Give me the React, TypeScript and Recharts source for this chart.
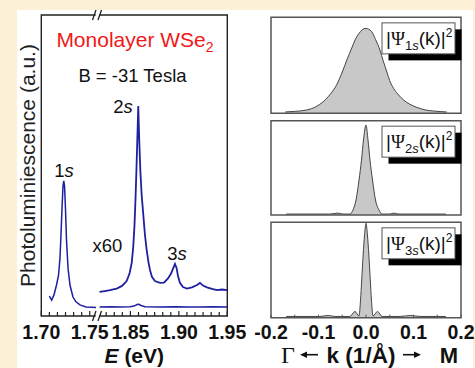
import React from 'react';
import { LineChart, Line, AreaChart, Area, XAxis, YAxis, ReferenceArea, ReferenceDot } from 'recharts';

const FONT = '"Liberation Sans", Arial, Helvetica, sans-serif';
const SERIF = '"Liberation Serif", "Times New Roman", serif';
const BLUE = '#1f1fa0';
const CREAM = '#fcf1d6';

// ---------- Left panel: PL spectrum (energy in eV, intensity in a.u.) ----------
const mainLowE = [1.7083, 1.7107, 1.7131, 1.7157, 1.7178, 1.7193, 1.7203, 1.7214, 1.7224, 1.7232, 1.724, 1.725, 1.726, 1.7276, 1.7296, 1.7327, 1.7358, 1.7399, 1.7461, 1.752, 1.7565];
const mainLowI = [6.6, 5.3, 7.0, 10.3, 13.6, 19.3, 26.9, 35.9, 43.2, 44.9, 43.2, 35.2, 25.2, 15.9, 10.3, 6.3, 4.7, 3.7, 3.0, 2.9, 2.8];
const mainHighE = [1.8181, 1.83, 1.8392, 1.8495, 1.8537, 1.8568, 1.8588, 1.8609, 1.865, 1.8805, 1.896, 1.91, 1.9218, 1.935, 1.95];
const mainHighI = [3.0, 3.1, 3.0, 3.1, 3.3, 3.8, 3.9, 3.5, 3.1, 3.0, 3.1, 3.0, 3.0, 3.1, 3.0];
const x60E = [1.8181, 1.8237, 1.8289, 1.8358, 1.8413, 1.8461, 1.849, 1.8513, 1.8529, 1.8542, 1.8552, 1.8562, 1.8571, 1.8581, 1.8591, 1.8602, 1.8616, 1.8633, 1.865, 1.8668, 1.8686, 1.8702, 1.8722, 1.8753, 1.8805, 1.8846, 1.8888, 1.8918, 1.8942, 1.896, 1.8977, 1.8991, 1.9011, 1.9042, 1.9084, 1.9135, 1.9187, 1.9218, 1.9249, 1.929, 1.9342, 1.9393, 1.9445, 1.95];
const x60I = [8.0, 8.3, 8.6, 9.1, 10.0, 11.6, 14.0, 17.6, 22.9, 30.2, 38.5, 48.5, 58.5, 69.8, 58.5, 48.5, 40.2, 33.6, 26.9, 21.9, 17.9, 15.3, 13.0, 11.6, 11.0, 11.1, 12.5, 14.0, 15.9, 17.3, 15.9, 13.3, 11.0, 9.6, 9.1, 9.5, 10.3, 11.0, 10.1, 9.5, 9.0, 8.6, 8.8, 8.6];
const energyMajorTicks = [1.7, 1.75, 1.85, 1.9, 1.95];

// axis break: energies above the break are shifted left by BREAK_SHIFT
const BREAK_D = 1.758;
const BREAK_SHIFT = 0.058;
const toD = (e: number) => (e < 1.78 ? e : e - BREAK_SHIFT);

// ---------- Right panels: |Psi(k)|^2 ----------
const k1 = [-0.17, -0.15, -0.125, -0.105, -0.09, -0.075, -0.062, -0.05, -0.04, -0.03, -0.023, -0.015, -0.008, 0, 0.006, 0.012, 0.02, 0.03, 0.036, 0.044, 0.05, 0.058, 0.067, 0.079, 0.092, 0.107, 0.125, 0.142, 0.17];
const psi1 = [0.014, 0.02, 0.034, 0.07, 0.121, 0.2, 0.295, 0.43, 0.56, 0.68, 0.764, 0.83, 0.87, 0.885, 0.875, 0.85, 0.77, 0.65, 0.55, 0.43, 0.34, 0.26, 0.2, 0.139, 0.095, 0.062, 0.035, 0.024, 0.014];
const k2 = [-0.168, -0.076, -0.059, -0.048, -0.034, -0.0274, -0.021, -0.0147, -0.0095, -0.0053, 0, 0.0042, 0.0084, 0.0137, 0.02, 0.0274, 0.034, 0.05, 0.059, 0.069, 0.168];
const psi2 = [0.01, 0.01, 0.02, 0.01, 0.01, 0.053, 0.159, 0.371, 0.583, 0.795, 0.954, 0.795, 0.583, 0.371, 0.159, 0.053, 0.01, 0.01, 0.02, 0.01, 0.01];
const k3 = [-0.168, -0.097, -0.08, -0.065, -0.034, -0.0232, -0.0147, -0.0115, -0.009, -0.006, -0.003, 0, 0.003, 0.006, 0.009, 0.0115, 0.0147, 0.0242, 0.034, 0.072, 0.093, 0.114, 0.168];
const psi3 = [0.013, 0.013, 0.023, 0.013, 0.013, 0.065, 0.018, 0.186, 0.396, 0.658, 0.868, 0.99, 0.868, 0.658, 0.396, 0.186, 0.018, 0.065, 0.013, 0.013, 0.023, 0.013, 0.013];
const kTicks = [-0.2, -0.15, -0.1, -0.05, 0, 0.05, 0.1, 0.15, 0.2];
const kLabels = [-0.2, -0.1, 0, 0.1, 0.2];

// ---------- derived tables ----------
const mainData = [
  ...mainLowE.map((e, i) => ({ d: toD(e), v: mainLowI[i] })),
  { d: BREAK_D, v: null },
  ...mainHighE.map((e, i) => ({ d: toD(e), v: mainHighI[i] })),
];
const x60Data = x60E.map((e, i) => ({ d: toD(e), v: x60I[i] }));

const minorE: number[] = [];
[[1.7, 1.75], [1.85, 1.9], [1.9, 1.95]].forEach(([a, b]) => {
  for (let i = 1; i < 6; i++) minorE.push(a + (i * (b - a)) / 6);
});
for (let i = 1; i <= 3; i++) minorE.push(1.85 - (i * 0.05) / 6);
const majorD = energyMajorTicks.map(toD);
const energyTicks = [...majorD, ...minorE.map(toD)].sort((a, b) => a - b);

const panelData = (ks: number[], vs: number[]) => ks.map((k, i) => ({ k, v: vs[i] }));
const panels = [
  { data: panelData(k1, psi1), sub: '1' },
  { data: panelData(k2, psi2), sub: '2' },
  { data: panelData(k3, psi3), sub: '3' },
];

// ---------- render helpers ----------
const EnergyTick = (props: any) => {
  const { x, y, payload } = props;
  const idx = majorD.findIndex((m) => Math.abs(m - payload.value) < 1e-6);
  const isMajor = idx >= 0;
  return (
    <g>
      <line x1={x} x2={x} y1={y} y2={y - (isMajor ? 5 : 4)} stroke="#222" strokeWidth={1.2} />
      {isMajor && (
        <text x={x} y={y + 23} textAnchor="middle" fontFamily={FONT} fontWeight="bold" fontSize={19.5} fill="#111">
          {energyMajorTicks[idx].toFixed(2)}
        </text>
      )}
    </g>
  );
};

const makeKTick = (showLabels: boolean) => (props: any) => {
  const { x, y, payload } = props;
  const isMajor = kLabels.some((l) => Math.abs(l - payload.value) < 1e-9);
  return (
    <g>
      <line x1={x} x2={x} y1={y} y2={y - 3} stroke="#555" strokeWidth={1} />
      {showLabels && isMajor && (
        <text x={x} y={y + 21} textAnchor="middle" fontFamily={FONT} fontWeight="bold" fontSize={19.5} fill="#111">
          {payload.value.toFixed(1)}
        </text>
      )}
    </g>
  );
};

const BreakMark = (props: any) => {
  const { cx, cy } = props;
  return (
    <g>
      <rect x={cx - 1.8} y={cy - 2} width={3.6} height={4} fill="#fff" />
      <line x1={cx - 5} y1={cy + 5} x2={cx - 1.5} y2={cy - 5} stroke="#222" strokeWidth={1.3} />
      <line x1={cx + 0.5} y1={cy + 5} x2={cx + 4} y2={cy - 5} stroke="#222" strokeWidth={1.3} />
    </g>
  );
};

const textMark = (content: React.ReactNode, fill = '#111', size = 18) => (props: any) => (
  <text x={props.cx} y={props.cy} textAnchor="middle" fontFamily={FONT} fontSize={size} fill={fill}>
    {content}
  </text>
);

const annotations = [
  { e: 1.8547, i: 89.4, node: textMark(<>Monolayer WSe<tspan fontSize={14} dy={5}>2</tspan></>, '#f01818', 21) },
  { e: 1.8521, i: 77.7, node: textMark('B = -31 Tesla', '#111', 18.5) },
  { e: 1.7234, i: 46.2, node: textMark(<>1<tspan fontStyle="italic">s</tspan></>, '#111', 18.5) },
  { e: 1.8423, i: 67.4, node: textMark(<>2<tspan fontStyle="italic">s</tspan></>, '#111', 18.5) },
  { e: 1.8263, i: 21.3, node: textMark('x60', '#111', 18.5) },
  { e: 1.898, i: 18.6, node: textMark(<>3<tspan fontStyle="italic">s</tspan></>, '#111', 18.5) },
];

const EnergyTitle = (props: any) => {
  const vb = props.viewBox || {};
  const cx = vb.x + vb.width / 2;
  return (
    <text x={cx} y={vb.y + 46.5} textAnchor="middle" fontFamily={FONT} fontWeight="bold" fontSize={21} fill="#111">
      <tspan fontStyle="italic">E</tspan> (eV)
    </text>
  );
};

const PLTitle = (props: any) => {
  const vb = props.viewBox || {};
  const x = vb.x + 35;
  const y = vb.y + vb.height / 2;
  return (
    <text x={x} y={y} transform={`rotate(-90, ${x}, ${y})`} textAnchor="middle" fontFamily={FONT} fontSize={21} fill="#222">
      Photoluminiescence (a.u.)
    </text>
  );
};

const KTitle = (props: any) => {
  const vb = props.viewBox || {};
  const cx = vb.x + vb.width / 2;
  const y = vb.y + 45;
  const ay = y - 8;
  return (
    <g fill="#111">
      <text x={cx - 78} y={y} textAnchor="middle" fontFamily={SERIF} fontSize={24}>Γ</text>
      <line x1={cx - 62} y1={ay} x2={cx - 48} y2={ay} stroke="#111" strokeWidth={1.6} />
      <polygon points={`${cx - 66},${ay} ${cx - 59},${ay - 3.2} ${cx - 59},${ay + 3.2}`} fill="#111" />
      <text x={cx - 5} y={y} textAnchor="middle" fontFamily={FONT} fontWeight="bold" fontSize={22.5}>k (1/Å)</text>
      <line x1={cx + 37} y1={ay} x2={cx + 51} y2={ay} stroke="#111" strokeWidth={1.6} />
      <polygon points={`${cx + 55},${ay} ${cx + 48},${ay - 3.2} ${cx + 48},${ay + 3.2}`} fill="#111" />
      <text x={cx + 83} y={y} textAnchor="middle" fontFamily={FONT} fontWeight="bold" fontSize={22}>M</text>
    </g>
  );
};

const PsiBox = (sub: string) => (props: any) => {
  const { cx, cy } = props;
  const w = 73;
  const h = 31;
  const off = 6.5;
  return (
    <g>
      <rect x={cx + off} y={cy + off} width={w} height={h} fill="#000" />
      <rect x={cx} y={cy} width={w} height={h} fill="#fff" stroke="#555" strokeWidth={1} />
      <text x={cx + 4} y={cy + 22} fontFamily={FONT} fontSize={19} fill="#111">
        <tspan>|</tspan>
        <tspan fontFamily={SERIF}>Ψ</tspan>
        <tspan fontSize={13} dy={5}>{sub}</tspan>
        <tspan fontSize={13} fontStyle="italic">s</tspan>
        <tspan dy={-5}>(k)|</tspan>
        <tspan fontSize={12} dy={-8}>2</tspan>
      </text>
    </g>
  );
};

const panelLayout = [
  { top: 0, height: 120, margin: { top: 17.3, right: 14, bottom: 6.7, left: 31 }, axisH: 0 },
  { top: 120, height: 100, margin: { top: 0.7, right: 14, bottom: 5, left: 31 }, axisH: 0 },
  { top: 220, height: 148, margin: { top: 2.3, right: 14, bottom: 20.3, left: 31 }, axisH: 30 },
];

export default function App() {
  return (
    <div style={{ position: 'absolute', left: 0, top: 0, width: 475, height: 368, background: CREAM, overflow: 'hidden' }}>
      <div style={{ position: 'absolute', left: 17, top: 10, width: 456, height: 358, background: '#fff' }} />
      <div style={{ position: 'absolute', left: 0, top: 0 }}>
        <LineChart width={250} height={368} margin={{ top: 15, right: 22.7, bottom: 22, left: 0 }}>
          <XAxis
            dataKey="d"
            type="number"
            domain={[toD(1.7), toD(1.95)]}
            allowDataOverflow
            ticks={energyTicks}
            interval={0}
            tick={EnergyTick}
            tickLine={false}
            tickSize={0}
            tickMargin={0}
            axisLine={false}
            height={30}
            label={EnergyTitle}
          />
          <YAxis type="number" domain={[0, 100]} allowDataOverflow width={41.3} tick={false} tickLine={false} axisLine={false} label={PLTitle} />
          <Line data={mainData} dataKey="v" type="linear" stroke={BLUE} strokeWidth={1.5} dot={false} isAnimationActive={false} connectNulls={false} />
          <Line data={x60Data} dataKey="v" type="linear" stroke={BLUE} strokeWidth={1.8} dot={false} isAnimationActive={false} />
          <ReferenceArea x1={toD(1.7)} x2={toD(1.95)} y1={0} y2={100} fill="none" stroke="#222" strokeWidth={1.4} ifOverflow="visible" />
          <ReferenceDot x={BREAK_D} y={100} r={1} shape={BreakMark} ifOverflow="visible" />
          <ReferenceDot x={BREAK_D} y={0} r={1} shape={BreakMark} ifOverflow="visible" />
          {annotations.map((a, i) => (
            <ReferenceDot key={i} x={toD(a.e)} y={a.i} r={1} shape={a.node} ifOverflow="visible" />
          ))}
        </LineChart>
      </div>
      {panels.map((p, i) => {
        const L = panelLayout[i];
        const last = i === panels.length - 1;
        return (
          <div key={i} style={{ position: 'absolute', left: 240, top: L.top }}>
            <AreaChart width={235} height={L.height} margin={L.margin} data={p.data}>
              <XAxis
                dataKey="k"
                type="number"
                domain={[-0.2, 0.2]}
                allowDataOverflow
                ticks={kTicks}
                interval={0}
                tick={makeKTick(last)}
                tickLine={false}
                tickSize={0}
                tickMargin={0}
                axisLine={false}
                height={L.axisH}
                label={last ? KTitle : undefined}
              />
              <YAxis type="number" domain={[0, 1]} allowDataOverflow hide />
              <Area dataKey="v" type="monotone" stroke="#444" strokeWidth={1} fill="#c8c8c8" fillOpacity={1} isAnimationActive={false} />
              <ReferenceArea x1={-0.2} x2={0.2} y1={0} y2={1} fill="none" stroke="#555" strokeWidth={1.5} ifOverflow="visible" />
              <ReferenceDot x={0.0337} y={0.942} r={1} shape={PsiBox(p.sub)} ifOverflow="visible" />
            </AreaChart>
          </div>
        );
      })}
    </div>
  );
}
